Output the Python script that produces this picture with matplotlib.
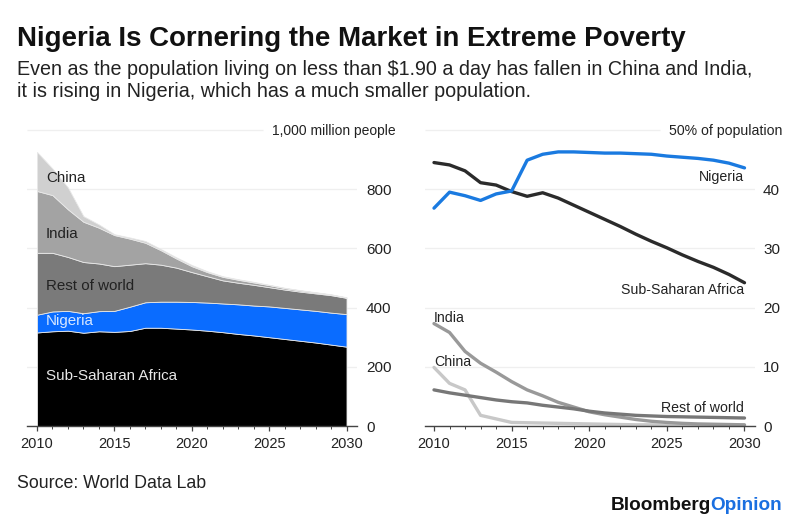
import matplotlib
matplotlib.use("Agg")
import matplotlib.pyplot as plt
from matplotlib.ticker import MultipleLocator

plt.rcParams['font.family'] = ['Liberation Sans', 'DejaVu Sans']

years = list(range(2010, 2031))

# Left panel: people (millions), one layer per region
ssa_people = [316, 320, 322, 315, 320, 318, 321, 332, 332, 329, 326, 322, 317, 311, 306, 300, 294, 288, 282, 275, 268]
nigeria_people = [60, 67, 67, 66, 68, 71, 82, 86, 88, 91, 93, 95, 97, 100, 101, 104, 105, 106, 107, 108, 110]
rest_people = [209, 198, 182, 173, 161, 151, 142, 132, 125, 115, 101, 89, 78, 73, 70, 65, 62, 60, 59, 59, 55]
india_people = [209, 195, 161, 136, 121, 105, 88, 69, 49, 31, 20, 14, 12, 10, 8, 7, 5, 4, 3, 2, 1]
china_people = [132, 90, 74, 19, 11, 3, 4, 6, 4, 4, 4, 3, 2, 2, 2, 1, 1, 1, 1, 1, 1]

# Right panel: share of population (%)
nigeria_share = [36.8, 39.5, 38.9, 38.1, 39.2, 39.7, 44.9, 45.9, 46.3, 46.3, 46.2, 46.1, 46.1, 46.0, 45.9, 45.6, 45.4, 45.2, 44.9, 44.4, 43.6]
ssa_share = [44.5, 44.1, 43.1, 41.1, 40.7, 39.6, 38.8, 39.4, 38.5, 37.3, 36.1, 34.9, 33.7, 32.4, 31.2, 30.1, 28.9, 27.8, 26.8, 25.6, 24.2]
india_share = [17.3, 15.8, 12.6, 10.6, 9.1, 7.5, 6.1, 5.1, 4.0, 3.2, 2.4, 1.9, 1.5, 1.1, 0.8, 0.6, 0.45, 0.35, 0.3, 0.25, 0.2]
china_share = [9.9, 7.2, 6.1, 1.8, 1.2, 0.6, 0.55, 0.5, 0.45, 0.4, 0.35, 0.3, 0.25, 0.2, 0.2, 0.15, 0.15, 0.1, 0.1, 0.1, 0.1]
rest_share = [6.1, 5.6, 5.2, 4.8, 4.4, 4.1, 3.9, 3.5, 3.2, 2.9, 2.5, 2.2, 2.0, 1.8, 1.7, 1.6, 1.55, 1.5, 1.45, 1.4, 1.35]

left_ticks = [0, 200, 400, 600, 800]
right_ticks = [0, 10, 20, 30, 40]
x_ticks = [2010, 2015, 2020, 2025, 2030]

W, H = 800, 524
fig = plt.figure(figsize=(W / 100, H / 100), dpi=100, facecolor='white')


def make_axes(x0, x1, ymax, ticks, label_pad, top_end):
    ax = fig.add_axes([x0 / W, 1 - 426 / H, (x1 - x0) / W, 296 / H])
    ax.set_ylim(0, ymax)
    ax.set_facecolor('none')
    for s in ('top', 'left', 'right'):
        ax.spines[s].set_visible(False)
    ax.spines['bottom'].set_color('#444444')
    ax.spines['bottom'].set_linewidth(1.0)
    ax.yaxis.tick_right()
    ax.set_yticks(ticks)
    ax.tick_params(axis='y', length=0, labelsize=11, labelcolor='#222222', pad=label_pad)
    ax.set_xticks(x_ticks)
    ax.xaxis.set_minor_locator(MultipleLocator(1))
    ax.tick_params(axis='x', which='major', length=3.5, width=0.9, color='#444444',
                   labelsize=10.5, labelcolor='#222222', pad=4.5)
    ax.tick_params(axis='x', which='minor', length=2, width=0.7, color='#444444')
    ax.grid(axis='y', color='#efefef', linewidth=0.9)
    ax.set_axisbelow(True)
    ax.hlines(ymax, 0, top_end, transform=ax.get_yaxis_transform(), color='#efefef',
              linewidth=0.9, clip_on=False)
    return ax


# Left: stacked area
axl = make_axes(27, 357, 1000, left_ticks, 6.5, (263 - 27) / 330)
axl.set_xlim(2010 - 10 / 15.475, 2030 + 10.5 / 15.475)
axl.stackplot(years, ssa_people, nigeria_people, rest_people, india_people, china_people,
              colors=['#000000', '#0a6cff', '#7a7a7a', '#a3a3a3', '#d0d0d0'],
              edgecolor='#e8e8e8', linewidth=0.6)
fig.text(272 / W, 1 - 130.5 / H, '1,000 million people', fontsize=10, color='#222222', va='center', ha='left')
for label, x, y, c in [('China', 46, 178.5, '#222222'), ('India', 46, 233.5, '#222222'),
                       ('Rest of world', 46, 285.5, '#222222'), ('Nigeria', 46, 321.5, '#d5e6ff'),
                       ('Sub-Saharan Africa', 46, 376, '#e8e8e8')]:
    fig.text(x / W, 1 - y / H, label, fontsize=10.9, color=c, va='center', ha='left')

# Right: lines
axr = make_axes(425, 755, 50, right_ticks, 5.8, (660 - 425) / 330)
axr.set_xlim(2010 - 9 / 15.525, 2030 + 10.5 / 15.525)
line_kw = dict(linewidth=2.4, solid_joinstyle='round', solid_capstyle='round', clip_on=False)
axr.plot(years, china_share, color='#c8c8c8', **line_kw)
axr.plot(years, india_share, color='#999999', **line_kw)
axr.plot(years, rest_share, color='#777777', **line_kw)
axr.plot(years, ssa_share, color='#2b2b2b', **line_kw)
axr.plot(years, nigeria_share, color='#1a7ae0', **line_kw)
fig.text(669 / W, 1 - 130.5 / H, '50% of population', fontsize=10.2, color='#222222', va='center', ha='left')
for label, x, y, ha in [('Nigeria', 744, 177.5, 'right'), ('Sub-Saharan Africa', 744, 289.5, 'right'),
                        ('India', 434, 317.5, 'left'), ('China', 434, 362.5, 'left'),
                        ('Rest of world', 744, 408.5, 'right')]:
    fig.text(x / W, 1 - y / H, label, fontsize=10.2, color='#222222', va='center', ha=ha)

# Titles and notes
fig.text(17 / W, 1 - 38.5 / H, 'Nigeria Is Cornering the Market in Extreme Poverty',
         fontsize=19.9, fontweight='bold', color='#111111', va='center', ha='left')
fig.text(17 / W, 1 - 69.5 / H, 'Even as the population living on less than $1.90 a day has fallen in China and India,',
         fontsize=14.2, color='#222222', va='center', ha='left')
fig.text(17 / W, 1 - 91.5 / H, 'it is rising in Nigeria, which has a much smaller population.',
         fontsize=14.2, color='#222222', va='center', ha='left')
fig.text(17 / W, 1 - 483 / H, 'Source: World Data Lab', fontsize=12.8, color='#222222', va='center', ha='left')
t = fig.text(611 / W, 1 - 505 / H, 'Bloomberg', fontsize=13.7, fontweight='bold', color='#111111', va='center', ha='left')
fig.canvas.draw()
bb = t.get_window_extent()
fig.text((bb.x1 - 1) / W, 1 - 505 / H, 'Opinion', fontsize=13.7, fontweight='bold', color='#1a6fe0', va='center', ha='left')

fig.savefig('out.png', dpi=100, facecolor='white')
